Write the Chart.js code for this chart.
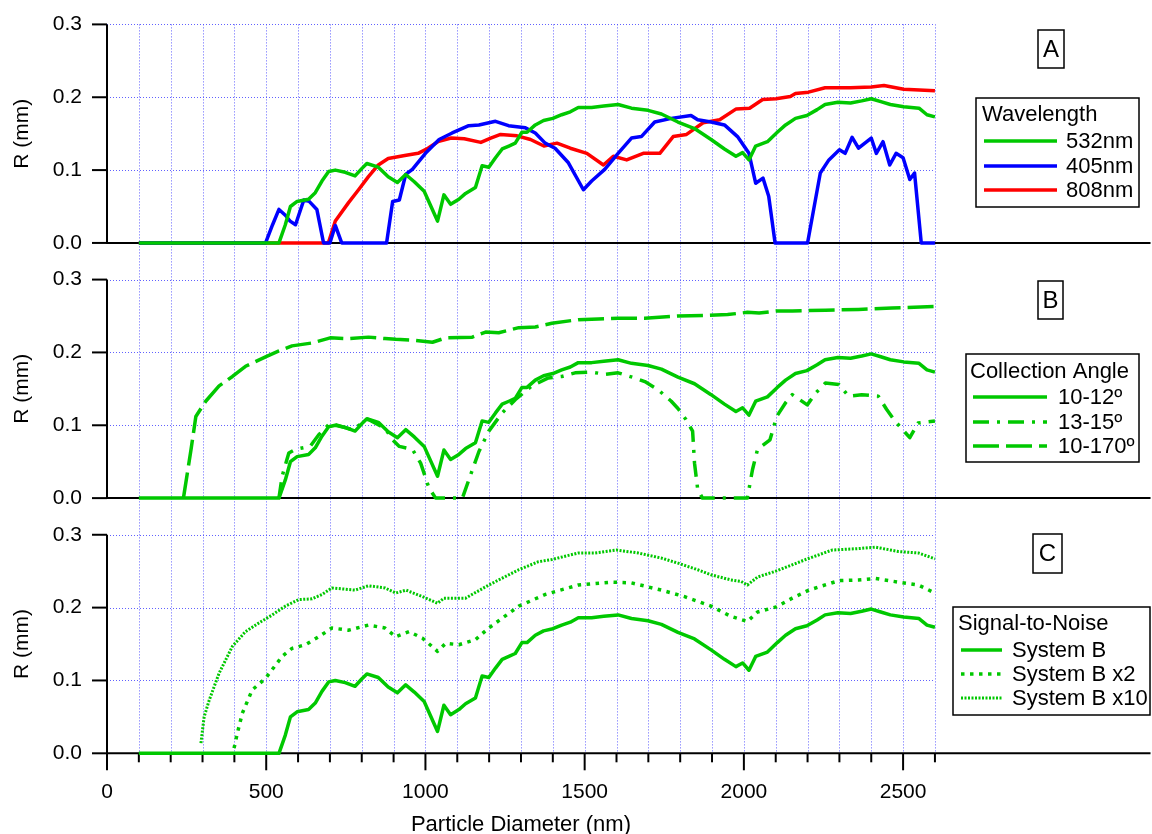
<!DOCTYPE html>
<html>
<head>
<meta charset="utf-8">
<script src="https://cdn.jsdelivr.net/npm/chart.js@4.4.0/dist/chart.umd.min.js"></script>
<style>
  html, body { margin: 0; padding: 0; background: #fff; }
  #wrap { position: relative; width: 1152px; height: 834px; }
</style>
</head>
<body>
<div id="wrap"><canvas id="myChart"></canvas></div>
<script>
// ---- data: [diameter nm, R mm] ----
const s532 = [[100,0],[540,0],[560,0.025],[576,0.050],[597,0.057],[633,0.060],[654,0.069],[675,0.085],[696,0.098],[717,0.100],[748,0.097],[779,0.092],[800,0.102],[816,0.109],[852,0.104],[883,0.091],[912,0.083],[938,0.094],[965,0.084],[996,0.071],[1038,0.030],[1058,0.066],[1079,0.053],[1105,0.060],[1126,0.068],[1157,0.076],[1178,0.106],[1199,0.104],[1220,0.117],[1241,0.129],[1262,0.133],[1282,0.137],[1303,0.152],[1319,0.152],[1345,0.162],[1371,0.168],[1400,0.171],[1428,0.176],[1455,0.180],[1480,0.186],[1522,0.186],[1560,0.188],[1605,0.190],[1647,0.185],[1699,0.182],[1741,0.177],[1793,0.166],[1845,0.157],[1897,0.142],[1939,0.129],[1975,0.119],[1996,0.124],[2016,0.114],[2037,0.133],[2074,0.139],[2105,0.152],[2131,0.162],[2162,0.171],[2198,0.175],[2230,0.183],[2255,0.190],[2295,0.193],[2335,0.192],[2370,0.195],[2400,0.198],[2430,0.194],[2460,0.190],[2502,0.187],[2550,0.185],[2575,0.176],[2600,0.173]];
const s405 = [[100,0],[498,0],[520,0.025],[540,0.046],[560,0.038],[575,0.030],[592,0.025],[618,0.059],[635,0.057],[659,0.046],[680,0],[700,0],[717,0.024],[737,0],[878,0],[897,0.057],[918,0.059],[938,0.094],[959,0.101],[1000,0.123],[1043,0.142],[1084,0.151],[1136,0.161],[1168,0.162],[1220,0.167],[1261,0.161],[1314,0.158],[1345,0.151],[1376,0.137],[1407,0.130],[1449,0.110],[1496,0.073],[1522,0.085],[1563,0.101],[1605,0.123],[1647,0.144],[1678,0.146],[1720,0.166],[1772,0.171],[1834,0.175],[1855,0.169],[1897,0.166],[1939,0.162],[1980,0.146],[2016,0.123],[2037,0.082],[2060,0.089],[2078,0.064],[2098,0],[2200,0],[2240,0.096],[2267,0.114],[2300,0.128],[2318,0.123],[2340,0.145],[2360,0.130],[2400,0.144],[2416,0.123],[2437,0.139],[2458,0.107],[2478,0.123],[2500,0.117],[2521,0.087],[2536,0.096],[2557,0],[2600,0]];
const s808 = [[100,0],[695,0],[717,0.030],[758,0.055],[790,0.073],[821,0.091],[852,0.107],[883,0.116],[935,0.120],[977,0.123],[1008,0.130],[1039,0.139],[1081,0.144],[1122,0.143],[1174,0.138],[1205,0.144],[1236,0.149],[1288,0.147],[1330,0.142],[1372,0.133],[1413,0.137],[1455,0.130],[1507,0.123],[1559,0.107],[1590,0.119],[1632,0.114],[1684,0.123],[1736,0.123],[1778,0.146],[1820,0.149],[1872,0.165],[1924,0.169],[1976,0.184],[2018,0.185],[2059,0.197],[2101,0.198],[2146,0.201],[2162,0.205],[2203,0.207],[2255,0.213],[2335,0.213],[2400,0.214],[2440,0.216],[2502,0.211],[2600,0.209]];
const s1315 = [[540,0],[550,0.030],[571,0.062],[592,0.067],[638,0.071],[665,0.087],[701,0.103],[769,0.094],[821,0.108],[873,0.096],[897,0.080],[918,0.071],[959,0.067],[985,0.048],[1011,0.014],[1032,0],[1116,0],[1137,0.026],[1168,0.064],[1199,0.092],[1241,0.117],[1282,0.135],[1334,0.154],[1386,0.165],[1428,0.167],[1470,0.172],[1522,0.173],[1564,0.170],[1605,0.172],[1657,0.165],[1689,0.160],[1730,0.149],[1772,0.133],[1793,0.123],[1818,0.108],[1839,0.092],[1845,0.048],[1855,0.012],[1870,0],[2011,0],[2027,0.039],[2043,0.067],[2082,0.080],[2103,0.112],[2131,0.131],[2152,0.142],[2199,0.128],[2225,0.144],[2256,0.158],[2298,0.156],[2329,0.140],[2370,0.142],[2422,0.140],[2448,0.122],[2474,0.106],[2521,0.083],[2547,0.103],[2600,0.106]];
const s10170 = [[240,0],[264,0.067],[279,0.112],[310,0.133],[352,0.154],[394,0.167],[435,0.181],[498,0.194],[540,0.202],[581,0.209],[644,0.213],[701,0.220],[758,0.219],[821,0.221],[873,0.219],[907,0.218],[959,0.217],[1022,0.214],[1064,0.220],[1147,0.221],[1189,0.228],[1230,0.227],[1293,0.234],[1345,0.235],[1397,0.240],[1480,0.245],[1543,0.246],[1605,0.247],[1689,0.247],[1793,0.250],[1886,0.251],[1949,0.252],[2011,0.255],[2048,0.254],[2105,0.257],[2152,0.257],[2256,0.258],[2360,0.259],[2465,0.261],[2600,0.263]];
const sX2 = [[399,0.007],[409,0.027],[425,0.055],[456,0.087],[498,0.103],[550,0.133],[581,0.144],[623,0.149],[665,0.160],[706,0.172],[758,0.169],[821,0.176],[873,0.172],[907,0.160],[949,0.167],[991,0.158],[1038,0.140],[1064,0.151],[1105,0.149],[1157,0.156],[1199,0.172],[1293,0.202],[1376,0.218],[1480,0.231],[1584,0.235],[1647,0.234],[1741,0.224],[1814,0.215],[1897,0.202],[1959,0.188],[2011,0.181],[2043,0.194],[2102,0.201],[2152,0.213],[2204,0.224],[2298,0.237],[2360,0.238],[2413,0.240],[2485,0.235],[2548,0.231],[2600,0.220]];
const sX10 = [[295,0.014],[305,0.050],[321,0.073],[352,0.110],[394,0.147],[435,0.167],[477,0.179],[519,0.190],[560,0.202],[602,0.211],[644,0.212],[675,0.218],[706,0.227],[779,0.224],[821,0.230],[873,0.227],[907,0.220],[939,0.224],[991,0.215],[1038,0.206],[1058,0.213],[1126,0.213],[1199,0.231],[1293,0.252],[1355,0.263],[1397,0.266],[1480,0.275],[1532,0.275],[1600,0.279],[1668,0.275],[1741,0.268],[1793,0.261],[1855,0.252],[1897,0.245],[1959,0.238],[1991,0.236],[2011,0.231],[2043,0.242],[2100,0.250],[2194,0.266],[2277,0.279],[2360,0.281],[2413,0.283],[2485,0.277],[2548,0.275],[2600,0.267]];

// tick labels and texts
const xTickLabels = [0, 500, 1000, 1500, 2000, 2500];
const yTickLabels = [0, 0.1, 0.2, 0.3];
const gridMax = 2600;
const panelLetters = ['A', 'B', 'C'];
const legendTitles = ['Wavelength', 'Collection Angle', 'Signal-to-Noise'];
const wavelengthNames = ['532nm', '405nm', '808nm'];
const angleNames = ['10-12º', '13-15º', '10-170º'];
const noiseNames = ['System B', 'System B x2', 'System B x10'];

const FONT = "'Liberation Sans', Arial, sans-serif";
const GREEN = '#00c800', BLUE = '#0000ff', RED = '#ff0000';
const GRID = 'rgba(80,80,255,0.9)';
const DASHDOT = [16, 8, 3, 8], LONGDASH = [26, 7], DOT2 = [3.5, 5.5], DOT10 = [2, 1.5];

function pts(pairs) { return pairs.map(p => ({ x: p[0], y: p[1] })); }
function mk(label, pairs, color, axis, dash, width) {
    return {
        label, data: pts(pairs), yAxisID: axis,
        borderColor: color, backgroundColor: color,
        borderWidth: width || 3.5, borderDash: dash,
        pointRadius: 0, tension: 0, fill: false, clip: false,
        borderJoinStyle: 'round'
    };
}

const datasets = [
    mk(wavelengthNames[0], s532, GREEN, 'yA', []),
    mk(wavelengthNames[1], s405, BLUE, 'yA', []),
    mk(wavelengthNames[2], s808, RED, 'yA', []),
    mk(angleNames[0], s532, GREEN, 'yB', []),
    mk(angleNames[1], s1315, GREEN, 'yB', DASHDOT),
    mk(angleNames[2], s10170, GREEN, 'yB', LONGDASH),
    mk(noiseNames[0], s532, GREEN, 'yC', []),
    mk(noiseNames[1], sX2, GREEN, 'yC', DOT2, 3.5),
    mk(noiseNames[2], sX10, GREEN, 'yC', DOT10, 3)
];

function yScale(maxV, weight) {
    return {
        type: 'linear', position: 'left', stack: 'panels', stackWeight: maxV, weight: weight,
        min: 0, max: maxV,
        grid: { display: false, drawTicks: false }, border: { display: false },
        ticks: { stepSize: 0.1, includeBounds: false, padding: 25, color: '#000',
                 font: { family: FONT, size: 21 }, callback: v => v.toFixed(1) },
        afterFit: s => { s.width = 107; s.paddingTop = 0; s.paddingBottom = 0; }
    };
}

function line(ctx, x1, y1, x2, y2) {
    ctx.beginPath(); ctx.moveTo(x1, y1); ctx.lineTo(x2, y2); ctx.stroke();
}

// grid, axes, legends and labels
const panelFrame = {
    id: 'panelFrame',
    beforeDatasetsDraw(chart) {
        const { ctx, chartArea, scales } = chart;
        const x = scales.x;
        const left = x.getPixelForValue(0);
        const gridRight = x.getPixelForValue(gridMax);
        ctx.save();
        ctx.strokeStyle = GRID; ctx.lineWidth = 1; ctx.setLineDash([1, 2]);
        for (let v = 100; v <= gridMax; v += 100) {
            const px = Math.round(x.getPixelForValue(v)) + 0.5;
            line(ctx, px, chartArea.top, px, chartArea.bottom);
        }
        ['yA', 'yB', 'yC'].forEach(id => {
            yTickLabels.slice(1).forEach(v => {
                const py = Math.round(scales[id].getPixelForValue(v)) + 0.5;
                line(ctx, left, py, gridRight, py);
            });
        });
        ctx.setLineDash([]);
        ctx.strokeStyle = '#000'; ctx.lineWidth = 2;
        ['yA', 'yB', 'yC'].forEach(id => {
            const y = scales[id];
            const y0 = y.getPixelForValue(0), y3 = y.getPixelForValue(0.3);
            line(ctx, left, y0, chartArea.right, y0);
            line(ctx, left, y0 + 1, left, y3);
            yTickLabels.forEach(v => {
                const py = y.getPixelForValue(v);
                line(ctx, left - 15, py, left, py);
            });
        });
        const xb = scales.yC.getPixelForValue(0);
        for (let v = 0; v <= gridMax; v += 100) {
            const px = x.getPixelForValue(v);
            line(ctx, px, xb, px, xb + (v % 500 === 0 ? 17 : 9));
        }
        ctx.restore();
    },
    afterDatasetsDraw(chart) {
        const { ctx, scales } = chart;
        const ds = chart.data.datasets;
        ctx.save();
        // axis titles
        ctx.fillStyle = '#000';
        ctx.font = '21px ' + FONT;
        ctx.textAlign = 'center'; ctx.textBaseline = 'middle';
        ['yA', 'yB', 'yC'].forEach(id => {
            const cy = scales[id].getPixelForValue(0.15);
            ctx.save(); ctx.translate(22, cy); ctx.rotate(-Math.PI / 2);
            ctx.fillText('R (mm)', 0, 0); ctx.restore();
        });
        ctx.font = '22px ' + FONT;
        ctx.textBaseline = 'alphabetic';
        ctx.fillText('Particle Diameter (nm)', (scales.x.getPixelForValue(0) + scales.x.getPixelForValue(gridMax)) / 2, 831);

        // panel letters
        const letterBoxes = [[1038, 30, 26, 38], [1038, 281, 25, 38], [1033, 534, 29, 39]];
        ctx.font = '24px ' + FONT; ctx.textBaseline = 'middle'; ctx.lineWidth = 1.5; ctx.strokeStyle = '#000';
        letterBoxes.forEach((b, i) => {
            ctx.strokeRect(b[0], b[1], b[2], b[3]);
            ctx.fillText(panelLetters[i], b[0] + b[2] / 2, b[1] + b[3] / 2 + 1);
        });

        // legends
        const legends = [
            { box: [976, 98, 163, 109], title: [982, 115], lx: [984, 1057], tx: 1066, rows: [141, 166, 190], names: wavelengthNames, sets: [0, 1, 2] },
            { box: [966, 354, 173, 108], title: [970, 372], lx: [973, 1047], tx: 1058, rows: [397, 422, 446], names: angleNames, sets: [3, 4, 5] },
            { box: [953, 607, 197, 108], title: [958, 624], lx: [961, 1002], tx: 1012, rows: [650, 674, 698], names: noiseNames, sets: [6, 7, 8] }
        ];
        ctx.font = '22px ' + FONT; ctx.textAlign = 'left'; ctx.textBaseline = 'middle';
        legends.forEach((L, i) => {
            ctx.fillStyle = '#fff'; ctx.fillRect(L.box[0], L.box[1], L.box[2], L.box[3]);
            ctx.setLineDash([]); ctx.lineWidth = 1.5; ctx.strokeStyle = '#000';
            ctx.strokeRect(L.box[0], L.box[1], L.box[2], L.box[3]);
            ctx.fillStyle = '#000';
            ctx.fillText(legendTitles[i], L.title[0], L.title[1]);
            L.sets.forEach((k, j) => {
                const d = ds[k];
                ctx.strokeStyle = d.borderColor; ctx.lineWidth = d.borderWidth;
                ctx.setLineDash(d.borderDash || []);
                line(ctx, L.lx[0], L.rows[j], L.lx[1], L.rows[j]);
                ctx.setLineDash([]);
                ctx.fillStyle = '#000';
                ctx.fillText(L.names[j], L.tx, L.rows[j] + 1);
            });
        });
        ctx.restore();
    }
};

new Chart(document.getElementById('myChart'), {
    type: 'line',
    data: { datasets },
    options: {
        responsive: true,
        maintainAspectRatio: false,
        animation: false,
        events: [],
        layout: { padding: { top: 24.4, right: 0, bottom: 0, left: 0 } },
        plugins: { legend: { display: false }, tooltip: { enabled: false } },
        scales: {
            x: {
                type: 'linear', min: 0, max: 3277,
                grid: { display: false, drawTicks: false }, border: { display: false },
                ticks: { stepSize: 100, autoSkip: false, includeBounds: false, maxRotation: 0, padding: 26,
                         color: '#000', font: { family: FONT, size: 21 },
                         callback: v => xTickLabels.includes(v) ? String(v) : '' },
                afterFit: s => { s.height = 80.7; }
            },
            yA: yScale(0.3, 3),
            yB: yScale(0.3503, 2),
            yC: yScale(0.3503, 1)
        }
    },
    plugins: [panelFrame]
});
</script>
</body>
</html>
